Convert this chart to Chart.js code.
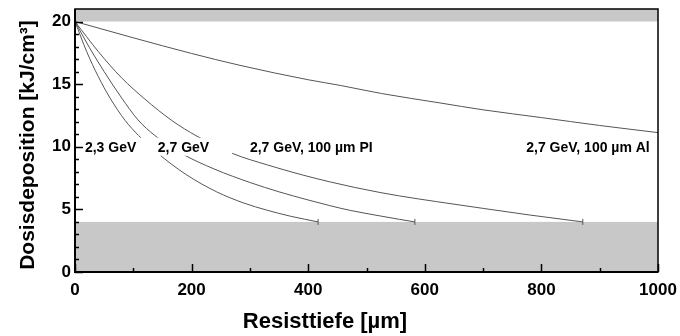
<!DOCTYPE html>
<html><head><meta charset="utf-8">
<script src="https://cdn.jsdelivr.net/npm/chart.js@4"></script>
<style>html,body{margin:0;padding:0;background:#fff}</style>
</head><body>
<canvas id="c" width="680" height="336"></canvas>
<script>
// ---- data ----
const xTicks = [0, 200, 400, 600, 800, 1000];
const yTicks = [0, 5, 10, 15, 20];
const seriesNames = ['2,3 GeV', '2,7 GeV', '2,7 GeV, 100 µm PI', '2,7 GeV, 100 µm Al'];
const xTitle = 'Resisttiefe [µm]';
const yTitle = 'Dosisdeposition [kJ/cm³]';

const x23 = [0, 20, 40, 60, 86, 109, 142, 190, 243, 290, 329, 370, 417];
const y23 = [20, 17.6, 15.6, 13.9, 12.1, 10.9, 9.48, 7.8, 6.4, 5.5, 4.94, 4.45, 4.0];

const x27 = [0, 25, 50, 80, 108, 137, 183, 240, 300, 350, 400, 437, 472, 523, 557, 583];
const y27 = [20, 17.9, 16.0, 13.9, 12.15, 10.9, 9.46, 8.2, 7.15, 6.4, 5.75, 5.3, 4.92, 4.48, 4.2, 4.0];

const xPI = [0, 40, 80, 120, 166, 209, 271, 330, 390, 437, 480, 523, 557, 620, 700, 780, 871];
const yPI = [20, 17.6, 15.5, 13.8, 12.1, 10.85, 9.45, 8.55, 7.75, 7.2, 6.75, 6.35, 6.07, 5.62, 5.08, 4.55, 4.0];

const xAl = [0, 100, 200, 283, 400, 455, 526, 626, 700, 800, 900, 1000];
const yAl = [20, 18.7, 17.45, 16.5, 15.35, 14.9, 14.25, 13.5, 12.95, 12.33, 11.7, 11.13];

// grey bands (value ranges)
const bandLow = [0, 4];
const bandHigh = [20, 21];

// in-plot annotations: text, x (µm, left edge), y (kJ/cm³)
const annoText = ['2,3 GeV', '2,7 GeV', '2,7 GeV, 100 µm PI', '2,7 GeV, 100 µm Al'];
const annoX = [17, 142, 300, 774];
const annoY = [10, 10, 10, 10];

// ---- build ----
const FONT = "'Liberation Sans', Arial, sans-serif";
function pts(xs, ys) { return xs.map((x, i) => ({x: x, y: ys[i]})); }
function endRadius(xs, show) { return xs.map((_, i) => (show && i === xs.length - 1) ? 3 : 0); }

const LINE = '#555555';
function ds(name, xs, ys, cap) {
  return {
    label: name, data: pts(xs, ys), borderColor: LINE, borderWidth: 1,
    backgroundColor: LINE, fill: false, cubicInterpolationMode: 'monotone',
    pointStyle: 'line', pointRotation: 90, pointRadius: endRadius(xs, cap),
    pointBorderColor: LINE, pointBorderWidth: 1, pointHoverRadius: 0
  };
}

const decor = {
  id: 'decor',
  beforeDatasetsDraw(chart) {
    const {ctx, chartArea: a, scales: {x, y}} = chart;
    ctx.save();
    ctx.fillStyle = '#c8c8c8';
    [bandLow, bandHigh].forEach(b => {
      const y1 = y.getPixelForValue(b[1]), y0 = y.getPixelForValue(b[0]);
      ctx.fillRect(a.left, y1, a.right - a.left, y0 - y1);
    });
    ctx.restore();
  },
  afterDatasetsDraw(chart) {
    const {ctx, chartArea: a, scales: {x, y}} = chart;
    ctx.save();
    ctx.font = 'bold 14px ' + FONT;
    ctx.textBaseline = 'middle';
    ctx.textAlign = 'left';
    annoText.forEach((t, i) => {
      const px = x.getPixelForValue(annoX[i]);
      const py = y.getPixelForValue(annoY[i]);
      const w = ctx.measureText(t).width;
      ctx.fillStyle = '#fff';
      ctx.fillRect(px - 1, py - 9, w + 24, 18);
      ctx.fillStyle = '#000';
      ctx.fillText(t, px, py + 1);
    });
    ctx.strokeStyle = '#000';
    ctx.lineWidth = 1.5;
    ctx.beginPath();
    for (let v = 0; v <= 1000; v += 100) {
      const px = Math.round(x.getPixelForValue(v)) + 0.5;
      const len = (v % 200 === 0) ? 8 : 4;
      ctx.moveTo(px, a.bottom); ctx.lineTo(px, a.bottom - len);
    }
    for (let v = 0; v <= 20; v += 1) {
      const py = Math.round(y.getPixelForValue(v)) + 0.5;
      const len = (v % 5 === 0) ? 8 : 4;
      ctx.moveTo(a.left, py); ctx.lineTo(a.left + len, py);
    }
    ctx.stroke();
    ctx.lineWidth = 1.5;
    ctx.strokeRect(a.left, a.top, a.right - a.left, a.bottom - a.top);
    ctx.lineWidth = 2;
    ctx.beginPath();
    ctx.moveTo(a.left, a.top); ctx.lineTo(a.left, a.bottom); ctx.lineTo(a.right, a.bottom);
    ctx.stroke();
    // axis titles
    ctx.fillStyle = '#000';
    ctx.textAlign = 'center';
    ctx.textBaseline = 'middle';
    ctx.font = 'bold 22px ' + FONT;
    ctx.fillText(xTitle, 325, 322);
    ctx.save();
    ctx.translate(28, 145);
    ctx.rotate(-Math.PI / 2);
    ctx.font = 'bold 21px ' + FONT;
    ctx.fillText(yTitle, 0, 0);
    ctx.restore();
    ctx.restore();
  }
};

new Chart(document.getElementById('c'), {
  type: 'line',
  data: {
    datasets: [
      ds(seriesNames[0], x23, y23, true),
      ds(seriesNames[1], x27, y27, true),
      ds(seriesNames[2], xPI, yPI, true),
      ds(seriesNames[3], xAl, yAl, false)
    ]
  },
  options: {
    responsive: false, animation: false, devicePixelRatio: 1,
    layout: {padding: {left: 0, right: 22, top: 9, bottom: 0}},
    plugins: {legend: {display: false}, tooltip: {enabled: false}},
    events: [],
    scales: {
      x: {
        type: 'linear', min: 0, max: 1000,
        afterBuildTicks: s => { s.ticks = xTicks.map(v => ({value: v})); },
        ticks: {font: {family: FONT, weight: 'bold', size: 17}, color: '#000', padding: 8, maxRotation: 0,
                callback: v => String(v)},
        grid: {display: false, drawTicks: false},
        border: {display: false},
        title: {display: false},
        afterFit: s => { s.height = 64; s.paddingLeft = 0; s.paddingRight = 0; }
      },
      y: {
        type: 'linear', min: 0, max: 21,
        afterBuildTicks: s => { s.ticks = yTicks.map(v => ({value: v})); },
        ticks: {font: {family: FONT, weight: 'bold', size: 17}, color: '#000', padding: 4,
                callback: v => String(v)},
        grid: {display: false, drawTicks: false},
        border: {display: false},
        title: {display: false},
        afterFit: s => { s.width = 75; s.paddingTop = 0; s.paddingBottom = 0; }
      }
    }
  },
  plugins: [decor]
});
</script>
</body></html>
